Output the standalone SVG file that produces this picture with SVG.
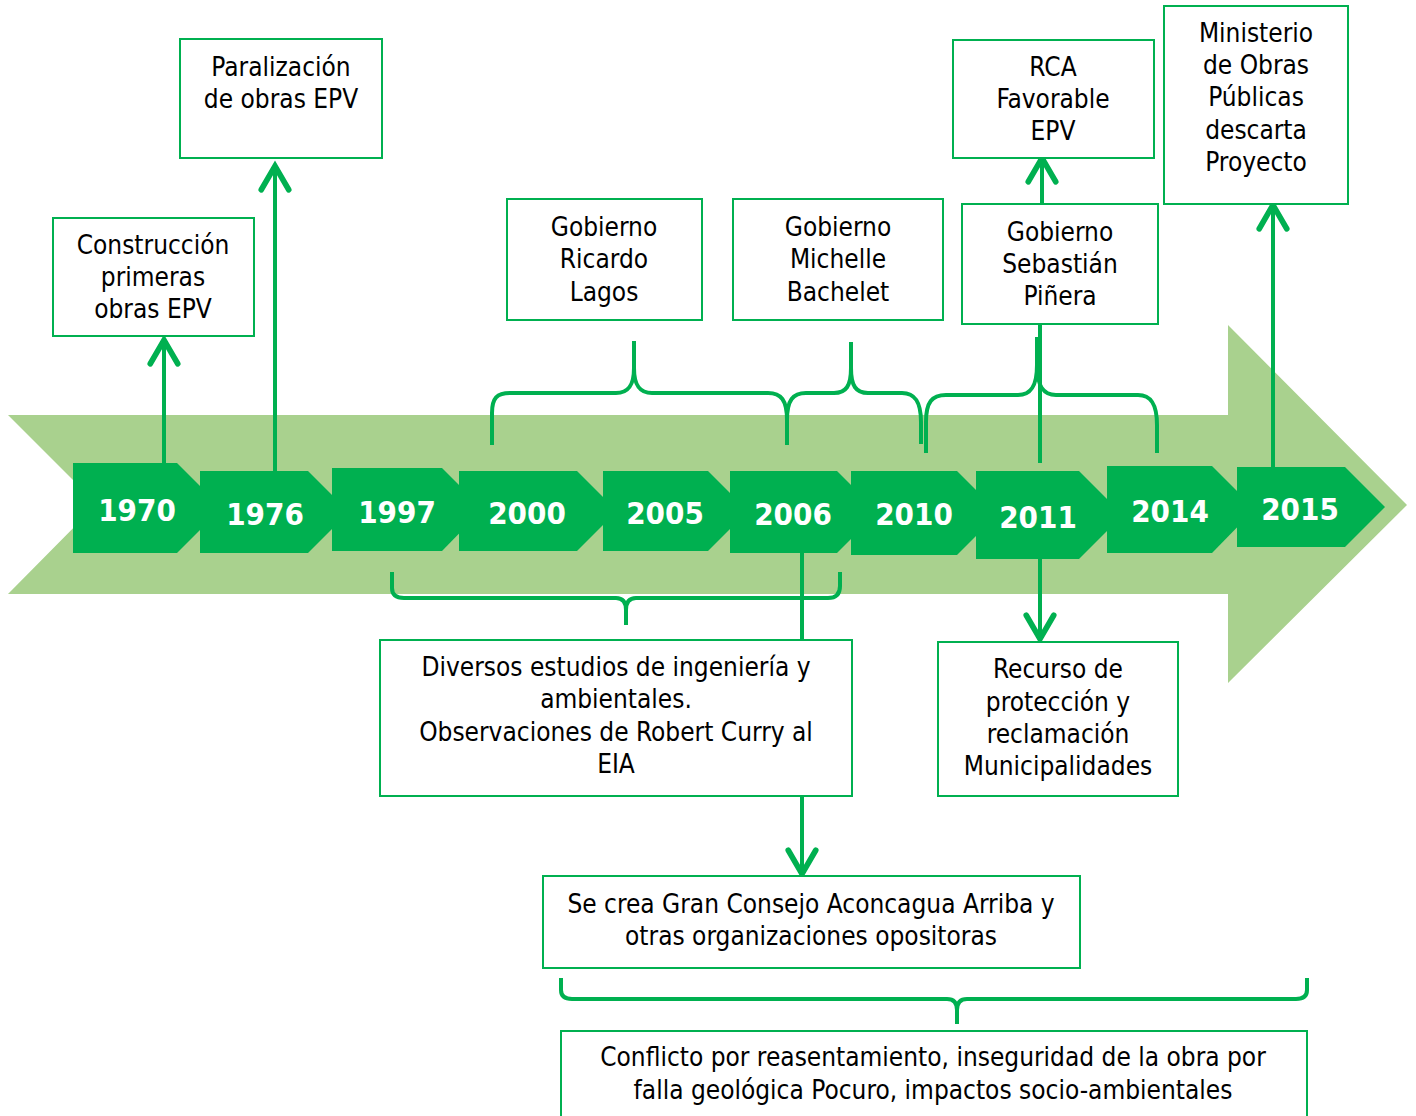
<svg xmlns="http://www.w3.org/2000/svg" width="1416" height="1116" viewBox="0 0 1416 1116">
  <style>
    .band { fill: #A9D18E; }
    .year { fill: #00B050; }
    .year-label { font-family: "DejaVu Sans", "Liberation Sans", sans-serif; font-stretch: condensed; font-weight: bold; font-size: 31px; fill: #FFFFFF; text-anchor: middle; }
    .box rect { fill: #FFFFFF; stroke: #00B050; stroke-width: 2; }
    .box text { font-family: "DejaVu Sans", "Liberation Sans", sans-serif; font-stretch: condensed; font-size: 26px; fill: #000000; text-anchor: middle; }
    .link { fill: none; stroke: #00B050; stroke-width: 4; }
    .brace { fill: none; stroke: #00B050; stroke-width: 4; }
  </style>
  <defs>
    <marker id="head" markerUnits="userSpaceOnUse" markerWidth="40" markerHeight="40" refX="0" refY="0" viewBox="-24 -16 28 32" orient="auto" overflow="visible">
      <path d="M-19,-11 L0,0 L-19,11" fill="none" stroke="#00B050" stroke-width="4.5" stroke-linecap="round" stroke-linejoin="miter"/>
    </marker>
  </defs>

  <!-- background timeline arrow -->
  <polygon class="band" points="8,415 1228,415 1228,325 1407,505 1228,683 1228,594 8,594 97,504"/>

  <!-- year chevrons -->
  <g id="y1970"><polygon class="year" points="73,463 177,463 222,508 177,553 73,553"/><text class="year-label" x="137" y="521">1970</text></g>
  <g id="y1976"><polygon class="year" points="200,471 308,471 349,512 308,553 200,553"/><text class="year-label" x="265" y="525">1976</text></g>
  <g id="y1997"><polygon class="year" points="332,468 442,468 483,509 442,551 332,551"/><text class="year-label" x="397" y="523">1997</text></g>
  <g id="y2000"><polygon class="year" points="459,471 577,471 617,511 577,551 459,551"/><text class="year-label" x="527" y="524">2000</text></g>
  <g id="y2005"><polygon class="year" points="603,471 708,471 748,511 708,551 603,551"/><text class="year-label" x="665" y="524">2005</text></g>
  <g id="y2006"><polygon class="year" points="730,471 837,471 878,512 837,553 730,553"/><text class="year-label" x="793" y="525">2006</text></g>
  <g id="y2010"><polygon class="year" points="851,471 957,471 999,513 957,555 851,555"/><text class="year-label" x="914" y="525">2010</text></g>
  <g id="y2011"><polygon class="year" points="976,471 1079,471 1123,515 1079,559 976,559"/><text class="year-label" x="1038" y="528">2011</text></g>
  <g id="y2014"><polygon class="year" points="1107,466 1212,466 1255,509 1212,553 1107,553"/><text class="year-label" x="1170" y="522">2014</text></g>
  <g id="y2015"><polygon class="year" points="1237,467 1345,467 1385,507 1345,547 1237,547"/><text class="year-label" x="1300" y="520">2015</text></g>

  <!-- connectors and braces -->
  <g id="connectors">
    <path class="link" d="M164,463 L164,340" marker-end="url(#head)"/>
    <path class="link" d="M275,471 L275,166" marker-end="url(#head)"/>
    <path class="link" d="M1042,204 L1042,158" marker-end="url(#head)"/>
    <path class="link" d="M1273,467 L1273,205" marker-end="url(#head)"/>
    <path class="link" d="M1040,559 L1040,639" marker-end="url(#head)"/>
    <path class="link" d="M802,553 L802,874" marker-end="url(#head)"/>
    <path class="link" d="M1040,324 L1040,463"/>

    <path class="brace" d="M492,445 L492,413 C492,398 497,393 510,393 L616,393 C628,393 634,386 634,368 L634,341 L634,368 C634,386 640,393 652,393 L768,393 C781,393 787,400 787,420 L787,445"/>
    <path class="brace" d="M787,445 L787,420 C787,400 793,393 806,393 L834,393 C846,393 851,386 851,368 L851,342 L851,368 C851,386 856,393 868,393 L902,393 C915,393 921,402 921,422 L921,444"/>
    <path class="brace" d="M926,453 L926,422 C926,402 932,395 946,395 L1018,395 C1031,395 1037,386 1037,365 L1037,337 L1037,365 C1037,386 1043,395 1056,395 L1138,395 C1151,395 1157,404 1157,425 L1157,453"/>
    <path class="brace" d="M392,572 L392,588 C392,595 396,598 404,598 L616,598 C623,598 626,602 626,610 L626,625 L626,610 C626,602 629,598 636,598 L828,598 C836,598 840,594 840,586 L840,572"/>
    <path class="brace" d="M561,978 L561,990 C561,996 565,999 572,999 L947,999 C954,999 957,1003 957,1010 L957,1024 L957,1010 C957,1003 960,999 967,999 L1296,999 C1303,999 1307,996 1307,990 L1307,978"/>
  </g>

  <!-- event boxes -->
  <g id="construccion" class="box">
    <rect x="53" y="218" width="201" height="118"/>
    <text x="153" y="254">Construcción</text>
    <text x="153" y="286">primeras</text>
    <text x="153" y="318">obras EPV</text>
  </g>
  <g id="paralizacion" class="box">
    <rect x="180" y="39" width="202" height="119"/>
    <text x="281" y="76">Paralización</text>
    <text x="281" y="108">de obras EPV</text>
  </g>
  <g id="lagos" class="box">
    <rect x="507" y="199" width="195" height="121"/>
    <text x="604" y="236">Gobierno</text>
    <text x="604" y="268">Ricardo</text>
    <text x="604" y="301">Lagos</text>
  </g>
  <g id="bachelet" class="box">
    <rect x="733" y="199" width="210" height="121"/>
    <text x="838" y="236">Gobierno</text>
    <text x="838" y="268">Michelle</text>
    <text x="838" y="301">Bachelet</text>
  </g>
  <g id="rca" class="box">
    <rect x="953" y="40" width="201" height="118"/>
    <text x="1053" y="76">RCA</text>
    <text x="1053" y="108">Favorable</text>
    <text x="1053" y="140">EPV</text>
  </g>
  <g id="pinera" class="box">
    <rect x="962" y="204" width="196" height="120"/>
    <text x="1060" y="241">Gobierno</text>
    <text x="1060" y="273">Sebastián</text>
    <text x="1060" y="305">Piñera</text>
  </g>
  <g id="ministerio" class="box">
    <rect x="1164" y="6" width="184" height="198"/>
    <text x="1256" y="42">Ministerio</text>
    <text x="1256" y="74">de Obras</text>
    <text x="1256" y="106">Públicas</text>
    <text x="1256" y="139">descarta</text>
    <text x="1256" y="171">Proyecto</text>
  </g>
  <g id="estudios" class="box">
    <rect x="380" y="640" width="472" height="156"/>
    <text x="616" y="676">Diversos estudios de ingeniería y</text>
    <text x="616" y="708">ambientales.</text>
    <text x="616" y="741">Observaciones de Robert Curry al</text>
    <text x="616" y="773">EIA</text>
  </g>
  <g id="recurso" class="box">
    <rect x="938" y="642" width="240" height="154"/>
    <text x="1058" y="678">Recurso de</text>
    <text x="1058" y="711">protección y</text>
    <text x="1058" y="743">reclamación</text>
    <text x="1058" y="775">Municipalidades</text>
  </g>
  <g id="consejo" class="box">
    <rect x="543" y="876" width="537" height="92"/>
    <text x="811" y="913">Se crea Gran Consejo Aconcagua Arriba y</text>
    <text x="811" y="945">otras organizaciones opositoras</text>
  </g>
  <g id="conflicto" class="box">
    <rect x="561" y="1031" width="746" height="100"/>
    <text x="933" y="1066">Conflicto por reasentamiento, inseguridad de la obra por</text>
    <text x="933" y="1099">falla geológica Pocuro, impactos socio-ambientales</text>
  </g>
</svg>
